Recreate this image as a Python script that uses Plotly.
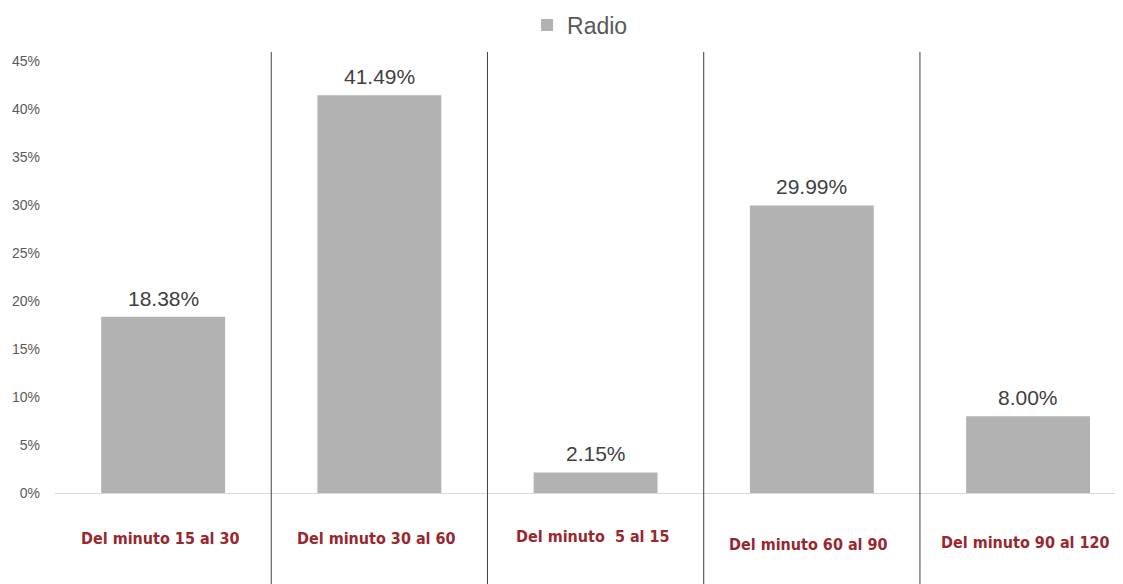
import plotly.graph_objects as go

categories = ["Del minuto 15 al 30", "Del minuto 30 al 60", "Del minuto  5 al 15",
              "Del minuto 60 al 90", "Del minuto 90 al 120"]
radio = [18.38, 41.49, 2.15, 29.99, 8.00]
tick_vals = [0, 5, 10, 15, 20, 25, 30, 35, 40, 45]
tick_text = ["0%", "5%", "10%", "15%", "20%", "25%", "30%", "35%", "40%", "45%"]

label_y = [-0.104, -0.104, -0.099, -0.116, -0.112]

xi = list(range(len(categories)))

fig = go.Figure()
fig.add_trace(go.Bar(
    x=xi, y=radio, name="Radio",
    marker=dict(color="#b2b2b2", line=dict(width=0)),
))

for i, v in zip(xi, radio):
    fig.add_annotation(x=i, y=v, xref="x", yref="y", text=f"{v:.2f}%",
                       showarrow=False, yanchor="bottom", yshift=5,
                       font=dict(family="Liberation Sans, Arial", size=21, color="#404040"))

for i in range(len(categories) - 1):
    fig.add_shape(type="line", xref="x", yref="paper",
                  x0=i + 0.5, x1=i + 0.5, y0=-0.3, y1=1.0,
                  line=dict(color="#404040", width=1))

for i, c in enumerate(categories):
    fig.add_annotation(x=i, y=label_y[i], xref="x", yref="paper",
                       text=f"<b>{c}</b>", showarrow=False, xshift=-3,
                       font=dict(family="DejaVu Sans Condensed", size=16, color="#98282f"),
                       yanchor="middle")

fig.update_layout(
    width=1115, height=576,
    margin=dict(l=47, r=0, t=44, b=91, autoexpand=False),
    plot_bgcolor="white", paper_bgcolor="white",
    bargap=0.427,
    showlegend=True,
    legend=dict(orientation="h", xref="container", yref="container",
                x=0.4655, xanchor="left", y=1 - 17 / 576, yanchor="middle",
                font=dict(family="Liberation Sans, Arial", size=23, color="#595959"),
                itemwidth=30),
    xaxis=dict(range=[-0.5, 4.439], showticklabels=False, showgrid=False,
               zeroline=False, showline=False, ticks=""),
    yaxis=dict(range=[0, 46], tickvals=tick_vals, ticktext=tick_text,
               showgrid=False, zeroline=True, zerolinecolor="#d9d9d9", zerolinewidth=1,
               showline=False, ticks="", ticklabelstandoff=14,
               tickfont=dict(family="Liberation Sans, Arial", size=14, color="#595959")),
)

fig.write_html("out.html")
